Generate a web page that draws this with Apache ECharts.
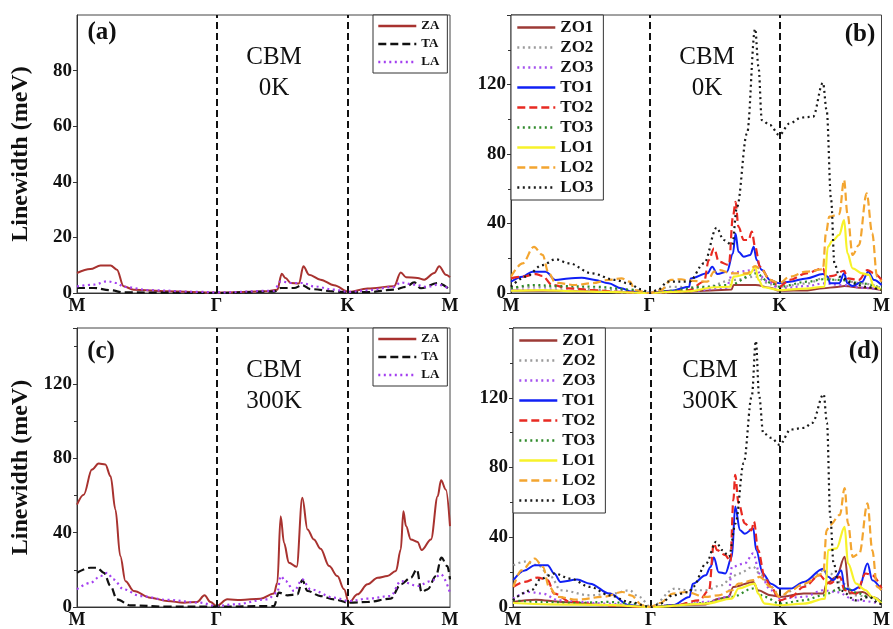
<!DOCTYPE html>
<html><head><meta charset="utf-8">
<script src="https://cdn.jsdelivr.net/npm/echarts@6/dist/echarts.min.js"></script>
<style>html,body{margin:0;padding:0;background:#fff}#c{width:893px;height:629px}</style>
</head><body><div id="c"></div>
<script>
// ---------- data ----------
const tickPos = [0, 374, 725, 1000];
const tickLabels = ['M', 'Γ', 'K', 'M'];
const acousticNames = ['ZA', 'TA', 'LA'];
const opticalNames = ['ZO1', 'ZO2', 'ZO3', 'TO1', 'TO2', 'TO3', 'LO1', 'LO2', 'LO3'];
const yMax = [100, 160, 150, 160];
const yInterval = [20, 40, 40, 40];

// (a) CBM 0K acoustic
const a_ZA = [[0,7.2],[36,8.6],[63,9.9],[90,9.9],[107,8.4],[125,2.4],[152,1.2],[242,0.6],[374,0.2],[510,0.6],[537,1.2],[549,6.9],[559,5.4],[573,3.6],[595,3.4],[607,9.6],[622,6.6],[653,4.8],[689,2.8],[729,0.4],[779,1.6],[850,2.4],[868,7.4],[882,5.7],[913,5.4],[931,4.8],[958,7.2],[971,9.6],[989,6.6],[1000,5.7]];
const a_TA = [[0,1.8],[45,1.8],[90,1],[125,0.2],[374,0],[528,0.5],[546,1.8],[582,1.8],[604,2.8],[626,1.4],[689,0.6],[729,0.2],[779,0.3],[850,1.2],[882,2.2],[904,3.8],[922,1.7],[967,3.6],[1000,1.2]];
const a_LA = [[0,2.4],[45,3],[81,4.2],[107,3.6],[125,2.2],[197,1],[331,0.4],[374,0.2],[528,0.8],[546,4.2],[573,3.6],[604,3.6],[635,2.4],[689,1.2],[729,0.4],[779,1],[850,2.2],[868,3.8],[904,3],[940,2.2],[967,3],[1000,1.4]];

// (c) CBM 300K acoustic
const c_ZA = [[0,55],[18,60.4],[40,73.9],[58,77.1],[76,76.6],[90,70.3],[103,52.4],[116,27.4],[130,13.9],[152,8.6],[197,5],[242,3.2],[286,2.3],[322,2.7],[342,6.3],[358,2.7],[374,0.5],[403,4.1],[439,3.8],[492,4.5],[528,7.3],[537,13],[546,48.8],[555,34.5],[568,23.8],[589,21.6],[604,58.7],[618,41.7],[635,36.3],[653,31.3],[676,22],[698,16.6],[716,9.5],[729,2.3],[752,6.8],[779,12.2],[806,15.7],[832,16.6],[855,19.3],[868,30.9],[875,51.5],[882,43.5],[895,36.3],[913,35],[924,30.6],[949,36.3],[967,59.6],[976,68.1],[989,63.1],[1000,43.5]];
const c_TA = [[0,18.4],[36,21.1],[54,21.1],[72,18.4],[90,11.3],[107,4.1],[143,0.9],[242,0.2],[374,0.2],[528,0.5],[541,7.7],[564,6.3],[591,6.8],[604,14.5],[618,8.6],[653,5.9],[689,4.1],[729,2.3],[779,2.7],[841,4.5],[868,12.2],[895,15.7],[911,20.2],[924,8],[940,9.5],[962,16.6],[977,26.5],[993,22],[1000,14.8]];
const c_LA = [[0,9.5],[36,13],[63,16.6],[81,18.4],[98,14.8],[125,9.5],[170,5.9],[242,3.8],[331,2.3],[374,0.5],[421,1.4],[510,4.1],[537,7.7],[546,16.6],[559,13.9],[582,8.6],[604,14.8],[626,9.5],[689,5],[729,3.2],[779,4.5],[841,5.9],[868,13.9],[913,11.3],[949,13.9],[976,17.5],[1000,7.7]];

// (b) CBM 0K optical
const b_ZO1 = [[0,1.5],[100,1.3],[200,1],[300,0.5],[374,0],[450,0.5],[540,1.5],[595,2],[601,4.6],[660,4.6],[700,3],[724,1.3],[800,1.5],[842,2.7],[880,3.5],[900,4],[950,3],[1000,1.7]];
const b_ZO2 = [[0,2.7],[60,3.6],[150,3],[250,2],[330,1.5],[374,0],[430,3.6],[520,3],[600,7.5],[660,9.4],[700,5],[724,3.6],[800,5.5],[842,8.4],[900,7],[950,5.5],[1000,3]];
const b_ZO3 = [[0,1.7],[80,2],[200,1],[374,0],[480,1],[580,3],[600,12],[660,13.2],[690,7],[724,2.7],[800,4],[842,5.5],[900,4.5],[950,3],[1000,2]];
const b_TO1 = [[0,6.5],[31,9.4],[58,12.3],[94,12.3],[120,7.5],[156,8.4],[191,8.8],[227,7.5],[263,5.6],[298,2.7],[325,0.8],[374,0.2],[432,1.3],[481,3.6],[485,8.4],[530,11.3],[543,15.1],[557,10.9],[583,12.3],[599,22.8],[606,34.3],[614,23.8],[628,20.9],[646,21.9],[655,26.6],[663,19],[677,13.2],[699,7.5],[724,5.6],[752,6.5],[797,8.4],[842,10.9],[855,9.4],[861,5.6],[886,5.6],[899,11.3],[908,5.6],[922,4],[948,6.5],[964,12.3],[980,7.5],[1000,4.6]];
const b_TO2 = [[0,8.4],[31,9.4],[67,10.9],[85,9.8],[111,4.6],[156,2.7],[218,1.7],[298,0.6],[374,0],[432,0.8],[481,1.7],[521,6.5],[534,19],[548,25.7],[561,18],[588,16.1],[599,43.9],[606,52.5],[614,38.1],[628,30.5],[641,30.5],[650,35.3],[659,26.6],[672,15.1],[699,7.5],[724,3.6],[752,7.5],[797,11.3],[842,14.2],[850,9.4],[868,9.8],[899,12.8],[908,8.4],[939,7.5],[962,13.2],[980,11.3],[1000,7.5]];
const b_TO3 = [[0,2.7],[60,4.6],[130,4],[230,3.6],[320,2],[374,0],[430,1.3],[520,3.6],[590,4.6],[660,11.3],[700,6],[724,3.6],[800,6.5],[842,7.9],[890,7.5],[950,5.5],[1000,2.7]];
const b_LO1 = [[0,1.3],[85,1.7],[174,1],[263,0.6],[374,0],[432,0.6],[481,1],[548,3.3],[592,3.6],[601,9.4],[646,11.3],[659,15.1],[668,7.5],[681,3.3],[724,1.7],[797,2.5],[846,3.6],[855,26.6],[868,30.1],[886,33.4],[899,42],[908,22.8],[922,14.2],[948,11.3],[966,10.4],[980,3.6],[1000,1.7]];
const b_LO2 = [[0,9.4],[31,17],[62,26.6],[85,21.9],[102,11.3],[120,5.9],[174,4.6],[218,5.6],[263,7.5],[298,8.4],[321,6.5],[334,1.7],[374,0],[405,1.7],[432,7.5],[459,7.9],[481,7.1],[530,6.5],[548,12.3],[565,13.2],[592,11.3],[637,11.3],[659,15.5],[677,13.2],[699,7.5],[724,5.6],[752,9.4],[797,12.3],[842,13.6],[850,34.3],[859,43.9],[886,45.4],[899,65],[908,45.8],[922,21.9],[939,27.6],[960,57.3],[975,34.3],[988,9.4],[1000,6.5]];
const b_LO3 = [[0,3.6],[40,9.4],[85,16.1],[120,19.4],[156,17.1],[218,11.3],[281,7.5],[316,5.6],[352,2.1],[374,0],[396,1.7],[423,6.5],[481,6.5],[521,17.1],[555,37.6],[574,30.5],[597,27.6],[610,49.6],[637,91.8],[659,152],[668,130],[677,99.5],[699,96.6],[724,90.9],[752,97.6],[784,101],[815,101.4],[842,121],[852,105],[864,53.5],[873,17.1],[886,9.4],[922,5.6],[957,3.6],[1000,1.7]];

// (d) CBM 300K optical
const d_ZO1 = [[0,2.9],[62,4.2],[133,2.9],[257,1],[374,0],[434,1],[523,1.5],[558,4.8],[585,5.8],[598,11.5],[652,14.4],[665,9.6],[700,6.7],[724,5.8],[789,7.7],[842,7.7],[851,13.4],[878,17.3],[900,28.8],[913,7.7],[949,8.6],[975,5.8],[1000,2.9]];
const d_ZO2 = [[1,24],[32,26],[67,24],[103,17.3],[129,9.6],[209,6.7],[271,7.7],[316,9.6],[342,5.8],[374,0],[440,10.6],[475,9.6],[523,9.6],[567,12.5],[594,17.3],[612,19.2],[652,23],[669,19.2],[700,11.5],[724,6.7],[789,12.5],[842,21],[860,19.2],[895,13.4],[931,6.7],[966,5.8],[1000,3.8]];
const d_ZO3 = [[0,4.8],[44,8.6],[80,7.7],[124,3.8],[257,1.9],[374,0],[434,1],[523,2.9],[585,5.8],[594,23],[629,25],[652,30.7],[669,19.2],[700,9.6],[724,4.8],[789,5.8],[842,9.6],[878,8.6],[931,3.8],[1000,1.9]];
const d_TO1 = [[1,15.4],[32,21],[59,24],[94,24],[112,19.2],[129,14.4],[174,15.7],[209,13.4],[262,7.7],[316,1],[374,0],[434,1],[479,5.8],[488,13.4],[523,18.2],[536,23],[545,28.4],[558,20],[576,19.2],[594,28.8],[603,57.6],[616,44],[629,42],[652,45],[660,32.6],[678,19.2],[700,13.4],[724,10.6],[754,10.6],[789,14.4],[842,22],[855,17.3],[869,15.4],[891,21],[900,10.6],[922,9.6],[940,11.5],[962,25],[975,15.4],[1000,9.6]];
const d_TO2 = [[1,11.5],[32,14.4],[67,16.9],[94,15.4],[112,7.7],[156,2.9],[245,1],[374,0],[434,0.6],[505,3.8],[532,9.6],[545,36.5],[554,32.6],[576,29.8],[590,26],[598,61.4],[603,75.8],[612,59.5],[629,48],[647,44],[654,49],[665,32.6],[683,17.3],[700,11.5],[724,3.8],[754,5.8],[789,11.5],[833,18.2],[847,15.4],[860,13.4],[887,17.3],[900,9.6],[931,7.7],[957,19.2],[975,18.2],[1000,10.6]];
const d_TO3 = [[0,3.8],[80,2.9],[168,2.3],[257,2.9],[328,1.9],[374,0],[434,1],[523,2.3],[594,5.8],[652,10.6],[683,5.8],[724,1.9],[789,3.8],[842,6.7],[878,9.6],[904,10.6],[940,7.7],[966,5.8],[1000,2.9]];
const d_LO1 = [[0,2.3],[100,1.5],[250,1.2],[374,0],[523,1.9],[594,4.8],[612,10.6],[656,13.4],[665,7.7],[683,1.9],[724,1],[789,1.9],[847,4.8],[855,32.6],[878,33.6],[900,46],[909,25],[931,13.4],[957,9.6],[975,5.8],[1000,1.9]];
const d_LO2 = [[1,11.5],[23,21],[59,27.8],[81,23],[98,11.5],[121,5.8],[174,4.2],[245,5.8],[298,8.6],[320,6.7],[351,1],[374,0],[399,2.3],[434,7.7],[470,8.6],[523,5.8],[558,6.7],[594,9.6],[612,13.4],[652,15.4],[669,17.3],[700,11.5],[724,5.8],[754,9.6],[789,13.4],[842,19.2],[851,44],[860,47],[887,52.8],[900,68.2],[909,48],[922,28.8],[940,30.7],[962,59.5],[975,32.6],[988,11.5],[1000,9.6]];
const d_LO3 = [[0,4],[50,9.6],[76,16.3],[112,19.2],[156,16.3],[209,11.5],[262,6.7],[316,2.9],[374,0],[399,1.9],[434,6.7],[479,8.6],[488,11.5],[524,25],[551,37.4],[568,32.6],[586,28.8],[604,48],[626,82.6],[648,121],[659,152.6],[668,121],[679,99.8],[701,97],[723,93],[754,101.8],[790,102.7],[812,105.6],[843,122],[852,105.6],[861,51.8],[870,25],[887,9.6],[932,3.8],[967,5.8],[994,1.9],[1000,1.5]];

const panelData = [
  {ZA: a_ZA, TA: a_TA, LA: a_LA},
  {ZO1: b_ZO1, ZO2: b_ZO2, ZO3: b_ZO3, TO1: b_TO1, TO2: b_TO2, TO3: b_TO3, LO1: b_LO1, LO2: b_LO2, LO3: b_LO3},
  {ZA: c_ZA, TA: c_TA, LA: c_LA},
  {ZO1: d_ZO1, ZO2: d_ZO2, ZO3: d_ZO3, TO1: d_TO1, TO2: d_TO2, TO3: d_TO3, LO1: d_LO1, LO2: d_LO2, LO3: d_LO3}
];
const panelNames = [acousticNames, opticalNames, acousticNames, opticalNames];
const panelTags = ['(a)', '(b)', '(c)', '(d)'];
const panelTemps = ['0K', '0K', '300K', '300K'];

// ---------- styles ----------
const FONT = "'Liberation Serif', 'DejaVu Serif', serif";
const DOT = [2, 3.5], DASH = [8, 4];
const styles = {
  ZA: {color: '#a8322f', type: 'solid', width: 2},
  TA: {color: '#111111', type: DASH, width: 2.2},
  LA: {color: '#a33ff0', type: DOT, width: 2.2},
  ZO1: {color: '#9c3a36', type: 'solid', width: 2},
  ZO2: {color: '#9a9a9a', type: DOT, width: 2.2},
  ZO3: {color: '#a450ee', type: DOT, width: 2.2},
  TO1: {color: '#1020f5', type: 'solid', width: 2},
  TO2: {color: '#e82a22', type: DASH, width: 2.2},
  TO3: {color: '#2f8a2a', type: DOT, width: 2.2},
  LO1: {color: '#f7f22a', type: 'solid', width: 2.2},
  LO2: {color: '#f3a530', type: DASH, width: 2.2},
  LO3: {color: '#1a1a1a', type: DOT, width: 2.2}
};
const grids = [
  {left: 77, top: 15, width: 373, height: 278},
  {left: 511, top: 15, width: 375, height: 278},
  {left: 77, top: 328, width: 373, height: 280},
  {left: 513, top: 328, width: 373, height: 279}
];

const chart = echarts.init(document.getElementById('c'), null, {renderer: 'canvas'});

const xAxes = grids.map((g, i) => ({
  type: 'value', gridIndex: i, min: 0, max: 1000,
  axisLine: {show: true, lineStyle: {color: '#333', width: 1}},
  axisTick: {show: false}, splitLine: {show: false},
  axisLabel: {
    customValues: tickPos,
    formatter: v => { const k = tickPos.indexOf(v); return k >= 0 ? tickLabels[k] : ''; },
    fontFamily: FONT, fontWeight: 'bold', fontSize: 18, color: '#111', margin: 4
  }
}));
const yAxes = grids.map((g, i) => ({
  type: 'value', gridIndex: i, min: 0, max: yMax[i], interval: yInterval[i],
  name: (i % 2 === 0) ? 'Linewidth (meV)' : '',
  nameLocation: 'middle', nameGap: 44,
  nameTextStyle: {fontFamily: FONT, fontWeight: 'bold', fontSize: 24, color: '#111'},
  axisLine: {show: true, lineStyle: {color: '#333', width: 1}},
  axisTick: {show: true, length: 4, lineStyle: {color: '#333'}},
  minorTick: {show: i > 0, splitNumber: 2, length: 3, lineStyle: {color: '#333'}},
  splitLine: {show: false},
  axisLabel: {showMaxLabel: false, fontFamily: FONT, fontWeight: 'bold', fontSize: 19, color: '#111', margin: 5}
}));

const series = [];
panelData.forEach((pd, gi) => {
  panelNames[gi].forEach((nm, si) => {
    const st = styles[nm];
    const s = {
      type: 'line', name: nm, xAxisIndex: gi, yAxisIndex: gi,
      data: pd[nm], symbol: 'none', smooth: 0.35, smoothMonotone: 'x',
      lineStyle: {color: st.color, type: st.type, width: st.width},
      itemStyle: {color: st.color},
      z: 2 + si, animation: false
    };
    if (si === 0) {
      s.markLine = {
        silent: true, symbol: 'none', animation: false,
        label: {show: false},
        lineStyle: {color: '#111', type: [7, 4], width: 2},
        data: [{xAxis: tickPos[1]}, {xAxis: tickPos[2]}]
      };
    }
    series.push(s);
  });
});

const legendBase = {
  orient: 'vertical', selectedMode: false,
  borderColor: '#333', borderWidth: 1, backgroundColor: '#fff',
  itemWidth: 38, itemHeight: 10,
  itemStyle: {opacity: 0},
  lineStyle: {width: 2.6}
};
const legends = [
  Object.assign({}, legendBase, {data: acousticNames, left: 373, top: 15, itemGap: 2, padding: [3, 8, 3, 4],
    textStyle: {fontFamily: FONT, fontWeight: 'bold', fontSize: 13, lineHeight: 16, color: '#111'}}),
  Object.assign({}, legendBase, {data: opticalNames, left: 511, top: 15, itemGap: 3, padding: [4, 10, 4, 5],
    textStyle: {fontFamily: FONT, fontWeight: 'bold', fontSize: 17, lineHeight: 17, color: '#111'}}),
  Object.assign({}, legendBase, {data: acousticNames, left: 373, top: 328, itemGap: 2, padding: [3, 8, 3, 4],
    textStyle: {fontFamily: FONT, fontWeight: 'bold', fontSize: 13, lineHeight: 16, color: '#111'}}),
  Object.assign({}, legendBase, {data: opticalNames, left: 513, top: 328, itemGap: 3, padding: [4, 10, 4, 5],
    textStyle: {fontFamily: FONT, fontWeight: 'bold', fontSize: 17, lineHeight: 17, color: '#111'}})
];

const tagPos = [[102, 33], [860, 35], [101, 352], [864, 352]];
const cbmPos = [[274, 57], [707, 57], [274, 370], [710, 370]];
const graphic = [];
grids.forEach((g, i) => {
  graphic.push({type: 'text', x: tagPos[i][0], y: tagPos[i][1], z: 100,
    style: {text: panelTags[i], fontFamily: FONT, fontWeight: 'bold', fontSize: 25, fill: '#111',
      textAlign: 'center', textVerticalAlign: 'middle', align: 'center', verticalAlign: 'middle'}});
  graphic.push({type: 'text', x: cbmPos[i][0], y: cbmPos[i][1], z: 100,
    style: {text: 'CBM', fontFamily: FONT, fontSize: 25, fill: '#111',
      textAlign: 'center', textVerticalAlign: 'middle', align: 'center', verticalAlign: 'middle'}});
  graphic.push({type: 'text', x: cbmPos[i][0], y: cbmPos[i][1] + 31, z: 100,
    style: {text: panelTemps[i], fontFamily: FONT, fontSize: 25, fill: '#111',
      textAlign: 'center', textVerticalAlign: 'middle', align: 'center', verticalAlign: 'middle'}});
});

chart.setOption({
  animation: false,
  backgroundColor: '#fff',
  grid: grids.map(g => Object.assign({show: true, borderColor: '#444', borderWidth: 1, backgroundColor: 'transparent'}, g)),
  xAxis: xAxes, yAxis: yAxes,
  legend: legends,
  series: series,
  graphic: graphic
});
</script></body></html>
